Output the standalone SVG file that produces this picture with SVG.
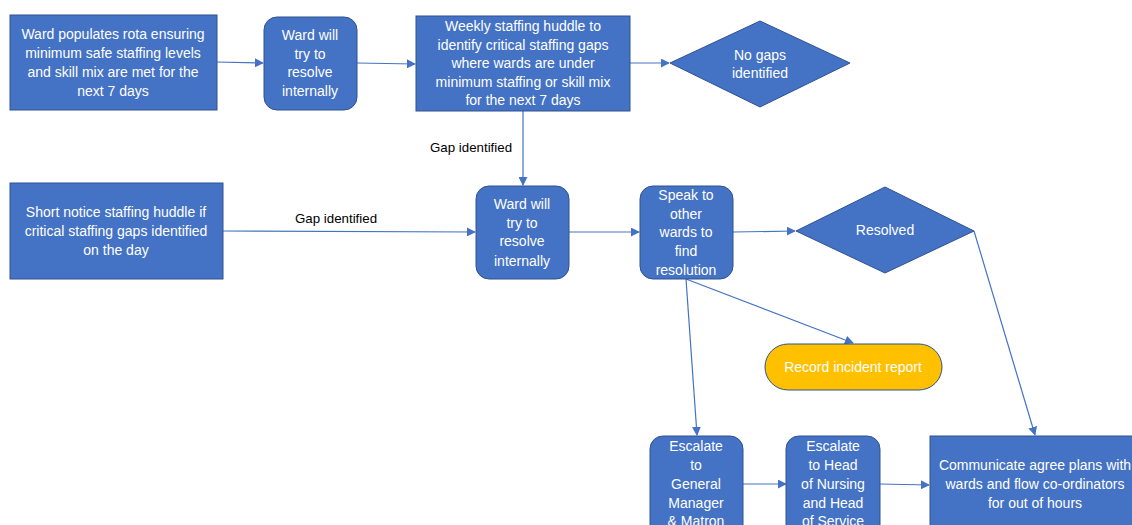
<svg xmlns="http://www.w3.org/2000/svg" width="1132" height="525" viewBox="0 0 1132 525">
<defs>
<style>
.n{fill:#4472C4;stroke:#2F528F;stroke-width:1}
.y{fill:#FFC000;stroke:#2F528F;stroke-width:1}
.t{font-family:"Liberation Sans",Arial,sans-serif;font-size:14px;fill:#ffffff;text-anchor:middle;dominant-baseline:central}
.l{font-family:"Liberation Sans",Arial,sans-serif;font-size:13.3px;fill:#000000;text-anchor:middle;dominant-baseline:central}
.c{stroke:#4472C4;stroke-width:1.2;fill:none}
.a{marker-end:url(#ah)}
</style>
<marker id="ah" viewBox="0 0 10 10" refX="9" refY="5" markerWidth="9" markerHeight="9" markerUnits="userSpaceOnUse" orient="auto">
<path d="M0,0 L10,5 L0,10 z" fill="#4472C4"/>
</marker>
</defs>
<rect width="1132" height="525" fill="#ffffff"/>
<g id="connectors">
<line class="c a" x1="217" y1="62" x2="263" y2="63"/>
<line class="c a" x1="357" y1="63" x2="415" y2="64"/>
<line class="c a" x1="630" y1="63" x2="669" y2="63"/>
<line class="c a" x1="523" y1="111" x2="523" y2="185"/>
<line class="c a" x1="223" y1="231" x2="475" y2="232"/>
<line class="c a" x1="569" y1="232" x2="639" y2="232"/>
<line class="c a" x1="733" y1="232" x2="795" y2="231"/>
<line class="c a" x1="974" y1="231" x2="1035" y2="435"/>
<line class="c a" x1="686" y1="279" x2="853" y2="343"/>
<line class="c a" x1="686" y1="279" x2="697" y2="435"/>
<line class="c a" x1="743" y1="484" x2="786" y2="484"/>
<line class="c a" x1="880" y1="484" x2="929" y2="485"/>
<text class="l" x="471" y="147">Gap identified</text>
<text class="l" x="336" y="218">Gap identified</text>
</g>
<g id="n1">
<rect class="n" x="10" y="15" width="207" height="95"/>
<text class="t" x="113" y="34">Ward populates rota ensuring</text>
<text class="t" x="113" y="53">minimum safe staffing levels</text>
<text class="t" x="113" y="72">and skill mix are met for the</text>
<text class="t" x="113" y="91">next 7 days</text>
</g>
<g id="n2">
<rect class="n" x="264" y="17" width="93" height="93" rx="13"/>
<text class="t" x="310" y="35">Ward will</text>
<text class="t" x="310" y="54">try to</text>
<text class="t" x="310" y="72">resolve</text>
<text class="t" x="310" y="91">internally</text>
</g>
<g id="n3">
<rect class="n" x="416" y="16" width="214" height="95"/>
<text class="t" x="523" y="26">Weekly staffing huddle to</text>
<text class="t" x="523" y="45">identify critical staffing gaps</text>
<text class="t" x="523" y="63">where wards are under</text>
<text class="t" x="523" y="82">minimum staffing or skill mix</text>
<text class="t" x="523" y="100">for the next 7 days</text>
</g>
<g id="n4">
<polygon class="n" points="670,63 760,21 850,63 760,107"/>
<text class="t" x="760" y="55">No gaps</text>
<text class="t" x="760" y="73">identified</text>
</g>
<g id="n5">
<rect class="n" x="10" y="183" width="213" height="96"/>
<text class="t" x="116" y="212">Short notice staffing huddle if</text>
<text class="t" x="116" y="231">critical staffing gaps identified</text>
<text class="t" x="116" y="250">on the day</text>
</g>
<g id="n6">
<rect class="n" x="476" y="186" width="93" height="93" rx="13"/>
<text class="t" x="522" y="204">Ward will</text>
<text class="t" x="522" y="223">try to</text>
<text class="t" x="522" y="241">resolve</text>
<text class="t" x="522" y="261">internally</text>
</g>
<g id="n7">
<rect class="n" x="640" y="186" width="93" height="93" rx="13"/>
<text class="t" x="686" y="195">Speak to</text>
<text class="t" x="686" y="214">other</text>
<text class="t" x="686" y="232">wards to</text>
<text class="t" x="686" y="251">find</text>
<text class="t" x="686" y="270">resolution</text>
</g>
<g id="n8">
<polygon class="n" points="796,231 885,187 974,231 885,273"/>
<text class="t" x="885" y="230">Resolved</text>
</g>
<g id="n9">
<rect class="y" x="765" y="344" width="177" height="46" rx="23"/>
<text class="t" x="853" y="367">Record incident report</text>
</g>
<g id="n10">
<rect class="n" x="650" y="436" width="93" height="110" rx="13"/>
<text class="t" x="696" y="446">Escalate</text>
<text class="t" x="696" y="465">to</text>
<text class="t" x="696" y="484">General</text>
<text class="t" x="696" y="503">Manager</text>
<text class="t" x="696" y="521">&amp; Matron</text>
</g>
<g id="n11">
<rect class="n" x="786" y="436" width="94" height="110" rx="13"/>
<text class="t" x="833" y="446">Escalate</text>
<text class="t" x="833" y="465">to Head</text>
<text class="t" x="833" y="484">of Nursing</text>
<text class="t" x="833" y="503">and Head</text>
<text class="t" x="833" y="521">of Service</text>
</g>
<g id="n12">
<rect class="n" x="930" y="436" width="210" height="110"/>
<text class="t" x="1035" y="465">Communicate agree plans with</text>
<text class="t" x="1035" y="484">wards and flow co-ordinators</text>
<text class="t" x="1035" y="503">for out of hours</text>
</g>
</svg>
